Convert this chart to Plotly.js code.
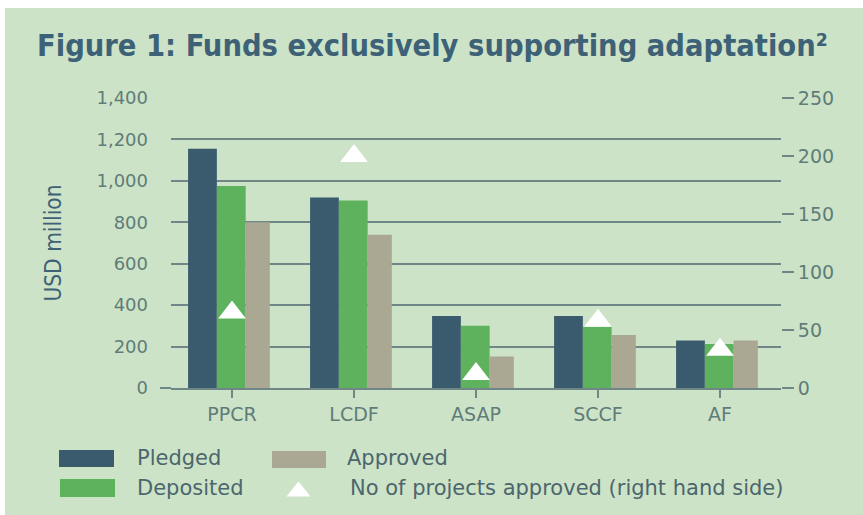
<!DOCTYPE html>
<html>
<head>
<meta charset="utf-8">
<script src="https://cdn.plot.ly/plotly-3.0.1.min.js"></script>
<style>
  html, body { margin: 0; padding: 0; background: #ffffff; width: 863px; height: 515px; overflow: hidden; }
  #chart { position: absolute; left: 5px; top: 8px; width: 858px; height: 507px; }
</style>
</head>
<body>
<div id="chart"></div>
<script>
// ---- data ----
const funds = ["PPCR", "LCDF", "ASAP", "SCCF", "AF"];
const pledged = [1155, 920, 348, 348, 229];
const deposited = [975, 905, 300, 296, 212];
const approved = [800, 740, 152, 256, 229];
const projectsApproved = [65, 200, 12, 58, 33];
const leftTicks = [0, 200, 400, 600, 800, 1000, 1200, 1400];
const leftTickText = ["0", "200", "400", "600", "800", "1,000", "1,200", "1,400"];
const rightTicks = [0, 50, 100, 150, 200, 250];
const legendLabels = ["Pledged", "Deposited", "Approved", "No of projects approved (right hand side)"];

// ---- style ----
const BG = "#cde3c7";
const C_PLEDGED = "#3a5b6e";
const C_DEPOSITED = "#5fb25d";
const C_APPROVED = "#aaa793";
const GRID = "#6f8787";
const TICKTXT = "#5f7c79";
const TITLE = "#3d6176";
const LEGTXT = "#4b666d";

const idx = funds.map((_, i) => i);

const traces = [
  { type: "bar", name: legendLabels[0], x: idx, y: pledged, marker: { color: C_PLEDGED },
    offset: -0.36, width: 0.236, showlegend: false, hoverinfo: "y" },
  { type: "bar", name: legendLabels[1], x: idx, y: deposited, marker: { color: C_DEPOSITED },
    offset: -0.124, width: 0.236, showlegend: false, hoverinfo: "y" },
  { type: "bar", name: legendLabels[2], x: idx, y: approved, marker: { color: C_APPROVED },
    offset: 0.112, width: 0.198, showlegend: false, hoverinfo: "y" },
  { type: "scatter", mode: "markers", name: legendLabels[3], x: idx, y: projectsApproved, yaxis: "y2",
    marker: { symbol: "triangle-up", size: 24, color: "#ffffff", line: { width: 0 } },
    cliponaxis: false, showlegend: false, hoverinfo: "y" }
];

// plot-area geometry in page pixels (for paper-coordinate legend placement)
const PX0 = 171, PX1 = 781, PY0 = 98, PY1 = 388;
const px = v => (v - PX0) / (PX1 - PX0);
const py = v => (PY1 - v) / (PY1 - PY0);

const shapes = [
  // baseline extension to the left
  { type: "line", xref: "paper", yref: "paper", x0: px(160), x1: px(171), y0: 0, y1: 0,
    line: { color: GRID, width: 2 } },
  // legend swatches
  { type: "rect", xref: "paper", yref: "paper", x0: px(59), x1: px(114), y0: py(450), y1: py(467),
    fillcolor: C_PLEDGED, line: { width: 0 } },
  { type: "rect", xref: "paper", yref: "paper", x0: px(60), x1: px(115), y0: py(479), y1: py(497),
    fillcolor: C_DEPOSITED, line: { width: 0 } },
  { type: "rect", xref: "paper", yref: "paper", x0: px(272), x1: px(326), y0: py(451), y1: py(468),
    fillcolor: C_APPROVED, line: { width: 0 } },
  { type: "path", xref: "paper", yref: "paper",
    path: `M ${px(286.5)} ${py(496.5)} L ${px(310.5)} ${py(496.5)} L ${px(298.5)} ${py(481.5)} Z`,
    fillcolor: "#ffffff", line: { width: 0 } }
];

const legFont = { family: "DejaVu Sans, Verdana, sans-serif", size: 21, color: LEGTXT };
const annotations = [
  { text: legendLabels[0], xref: "paper", yref: "paper", x: px(135), y: py(458), xanchor: "left", yanchor: "middle", showarrow: false, font: legFont },
  { text: legendLabels[1], xref: "paper", yref: "paper", x: px(135), y: py(488), xanchor: "left", yanchor: "middle", showarrow: false, font: legFont },
  { text: legendLabels[2], xref: "paper", yref: "paper", x: px(345), y: py(458), xanchor: "left", yanchor: "middle", showarrow: false, font: legFont },
  { text: legendLabels[3], xref: "paper", yref: "paper", x: px(348), y: py(488), xanchor: "left", yanchor: "middle", showarrow: false, font: legFont }
];

const layout = {
  width: 858, height: 507,
  paper_bgcolor: BG, plot_bgcolor: BG,
  margin: { l: 166, r: 82, t: 90, b: 127, pad: 0 },
  barmode: "overlay",
  showlegend: false,
  title: {
    text: "Figure 1: Funds exclusively supporting adaptation²",
    font: { family: "DejaVu Sans Condensed, DejaVu Sans, sans-serif", size: 30.5, color: TITLE, weight: "bold" },
    xref: "container", yref: "container", x: 32 / 858, xanchor: "left",
    y: 1 - (45 - 8) / 507, yanchor: "middle"
  },
  xaxis: {
    range: [-0.5, 4.5],
    tickmode: "array", tickvals: idx, ticktext: funds,
    tickson: "boundaries", ticks: "outside", ticklen: 8, tickwidth: 1.5, tickcolor: GRID,
    showline: true, linecolor: GRID, linewidth: 2,
    showgrid: false, zeroline: false,
    tickfont: { family: "DejaVu Sans, Verdana, sans-serif", size: 19, color: TICKTXT },
    fixedrange: true
  },
  yaxis: {
    range: [0, 1400],
    tickmode: "array", tickvals: leftTicks, ticktext: leftTickText,
    showgrid: true, gridcolor: GRID, gridwidth: 2,
    zeroline: false, showline: false, ticks: "",
    ticklabelstandoff: 22,
    tickfont: { family: "DejaVu Sans, Verdana, sans-serif", size: 18, color: TICKTXT },
    title: { text: "USD million", standoff: 28,
      font: { family: "DejaVu Sans Condensed, DejaVu Sans, sans-serif", size: 22.5, color: TITLE } },
    fixedrange: true
  },
  yaxis2: {
    overlaying: "y", side: "right",
    range: [0, 250],
    tickmode: "array", tickvals: rightTicks,
    showgrid: false, zeroline: false, showline: false,
    ticks: "outside", ticklen: 12, tickwidth: 1.5, tickcolor: GRID,
    tickfont: { family: "DejaVu Sans, Verdana, sans-serif", size: 19, color: TICKTXT },
    fixedrange: true
  },
  shapes: shapes,
  annotations: annotations
};

Plotly.newPlot("chart", traces, layout, { displayModeBar: false, staticPlot: true });
</script>
</body>
</html>
